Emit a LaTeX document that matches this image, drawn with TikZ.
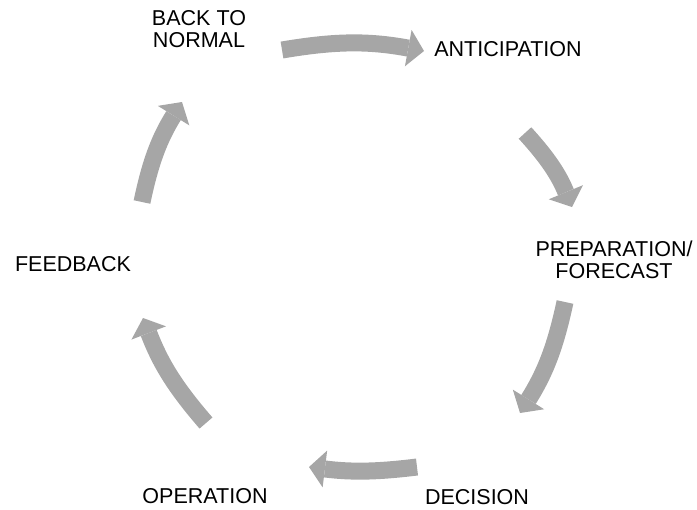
\documentclass[tikz,border=0pt]{standalone}
\usepackage{fontspec}
\setmainfont{Liberation Sans}
\usetikzlibrary{arrows.meta, positioning}
\definecolor{CGray}{HTML}{A6A6A6}
\tikzset{
    stagelabel/.style={
        inner sep=0pt,
        align=center,
        font=\fontsize{15.3pt}{15.6pt}\selectfont,
        text=black
    },
    cyclearrow/.style={
        -{Triangle[length=4mm, width=9.25mm, line width=0pt]},
        draw=CGray,
        line width=4.25mm,
        bend left=10
    }
}
\begin{document}
\begin{tikzpicture}[x=0.025cm, y=-0.025cm]
    \useasboundingbox (0,0) rectangle (697,509);

    % Nodes
    \node[stagelabel, anchor=north] (normal) at (199,10) {BACK TO\\NORMAL};
    \node[stagelabel, anchor=base] (antic) at (508,56.7) {ANTICIPATION};
    \node[stagelabel, anchor=north] (prep) at (614,241) {PREPARATION/\\FORECAST};
    \node[stagelabel, anchor=base] (decision) at (477,504) {DECISION};
    \node[stagelabel, anchor=base] (operation) at (205,503) {OPERATION};
    \node[stagelabel, anchor=base] (feedback) at (73,271) {FEEDBACK};

    % Arrow ends
    \coordinate (normalout) at (282,50);
    \coordinate (anticin) at (424,51);
    \coordinate (anticout) at (525,133);
    \coordinate (prepin) at (572,207);
    \coordinate (prepout) at (565,302);
    \coordinate (decisionin) at (520,413);
    \coordinate (decisionout) at (417,467);
    \coordinate (operationin) at (309,467);
    \coordinate (operationout) at (206,423);
    \coordinate (feedbackin) at (143,318);
    \coordinate (feedbackout) at (142,202);
    \coordinate (normalin) at (182,102);

    % Paths
    \draw[cyclearrow] (normalout) to (anticin);
    \draw[cyclearrow] (anticout) to (prepin);
    \draw[cyclearrow] (prepout) to (decisionin);
    \draw[cyclearrow, bend left=7] (decisionout) to (operationin);
    \draw[cyclearrow] (operationout) to (feedbackin);
    \draw[cyclearrow] (feedbackout) to (normalin);

\end{tikzpicture}
\end{document}
